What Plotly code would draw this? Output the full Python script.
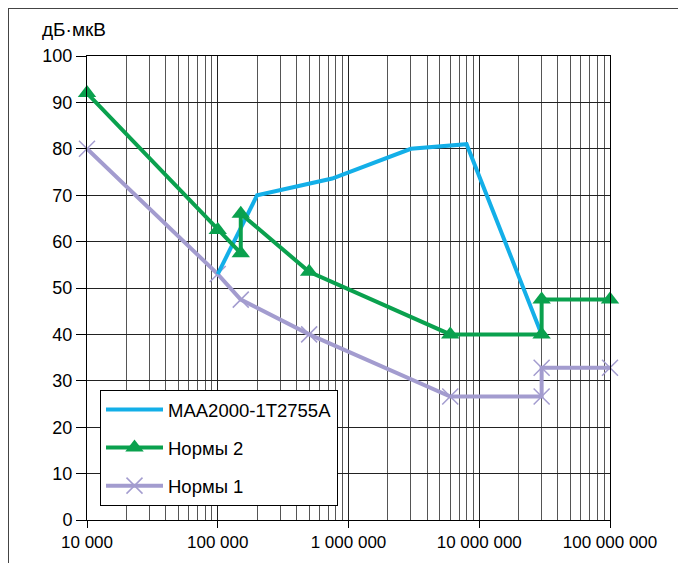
import plotly.graph_objects as go

# Data
blue_x = [100000, 200000, 750000, 3000000, 8000000, 30000000]
blue_y = [53, 70, 73.6, 80, 81, 40]

green_x = [10000, 100000, 150000, 150000, 500000, 6000000, 30000000, 30000000, 100000000]
green_y = [92, 62.5, 57.5, 66, 53.5, 40, 40, 47.5, 47.5]

lav_x = [10000, 100000, 150000, 500000, 6000000, 30000000, 30000000, 100000000]
lav_y = [80, 53, 47.5, 40, 26.6, 26.6, 32.8, 32.8]

x_tickvals = [10000, 100000, 1000000, 10000000, 100000000]
x_ticktext = ["10 000", "100 000", "1 000 000", "10 000 000", "100 000 000"]
y_tickvals = [0, 10, 20, 30, 40, 50, 60, 70, 80, 90, 100]

BLUE = "#13AFE8"
GREEN = "#0AA14E"
LAV = "#A39CCF"
FONT = "Liberation Sans, Arial, sans-serif"

W, H = 678, 555
ML, MR, MT, MB = 79, 76, 48, 43
PW = W - ML - MR
PH = H - MT - MB

fig = go.Figure()
fig.add_trace(go.Scatter(
    x=lav_x, y=lav_y, name="Нормы 1", mode="lines+markers",
    line=dict(color=LAV, width=4), cliponaxis=False,
    marker=dict(symbol="x-thin", size=16, line=dict(color=LAV, width=1.5), color=LAV),
    legendrank=3, legendgroup="c"))
fig.add_trace(go.Scatter(
    x=blue_x, y=blue_y, name="MAA2000-1T2755A", mode="lines",
    line=dict(color=BLUE, width=4), legendrank=1, legendgroup="a"))
fig.add_trace(go.Scatter(
    x=green_x, y=green_y, name="Нормы 2", mode="lines+markers",
    line=dict(color=GREEN, width=4), cliponaxis=False,
    marker=dict(symbol="triangle-up", size=16, color=GREEN),
    legendrank=2, legendgroup="b"))

fig.update_layout(
    width=W, height=H,
    margin=dict(l=ML, r=MR, t=MT, b=MB),
    paper_bgcolor="white", plot_bgcolor="white",
    font=dict(family=FONT, size=15, color="black"),
    showlegend=True,
    legend=dict(
        x=13 / PW, y=(PH - (390 - 56)) / PH, xanchor="left", yanchor="top",
        bgcolor="white", bordercolor="black", borderwidth=1,
        font=dict(family=FONT, size=18.5, color="black"),
        traceorder="grouped", tracegroupgap=11, itemwidth=57,
        entrywidth=236,
    ),
    xaxis=dict(
        type="log", range=[4, 8],
        tickvals=x_tickvals, ticktext=x_ticktext,
        ticks="outside", ticklen=7, tickcolor="black", tickwidth=1,
        showgrid=True, gridcolor="#222", gridwidth=1,
        minor=dict(dtick="D1", showgrid=True, gridcolor="#555", gridwidth=1, ticks=""),
        showline=True, linecolor="black", linewidth=1, mirror=True,
        zeroline=False, tickfont=dict(size=17),
    ),
    yaxis=dict(
        range=[0, 100], tickvals=y_tickvals,
        ticks="outside", ticklen=10, tickcolor="black", tickwidth=1,
        showgrid=True, gridcolor="#222", gridwidth=1,
        showline=True, linecolor="black", linewidth=1, mirror=True,
        zeroline=False, tickfont=dict(size=18),
    ),
    annotations=[dict(
        text="дБ·мкВ", xref="paper", yref="paper", x=-47 / PW, y=1 + 14 / PH,
        xanchor="left", yanchor="bottom", showarrow=False,
        font=dict(family=FONT, size=19, color="black"))],
    shapes=[
        dict(type="line", xref="paper", yref="paper", x0=-ML / PW, x1=1.2,
             y0=1 + MT / PH, y1=1 + MT / PH, line=dict(color="#444", width=2)),
        dict(type="line", xref="paper", yref="paper", x0=-ML / PW, x1=-ML / PW,
             y0=1 + MT / PH, y1=-0.2, line=dict(color="#444", width=2)),
    ],
)

fig.write_html("out.html")
